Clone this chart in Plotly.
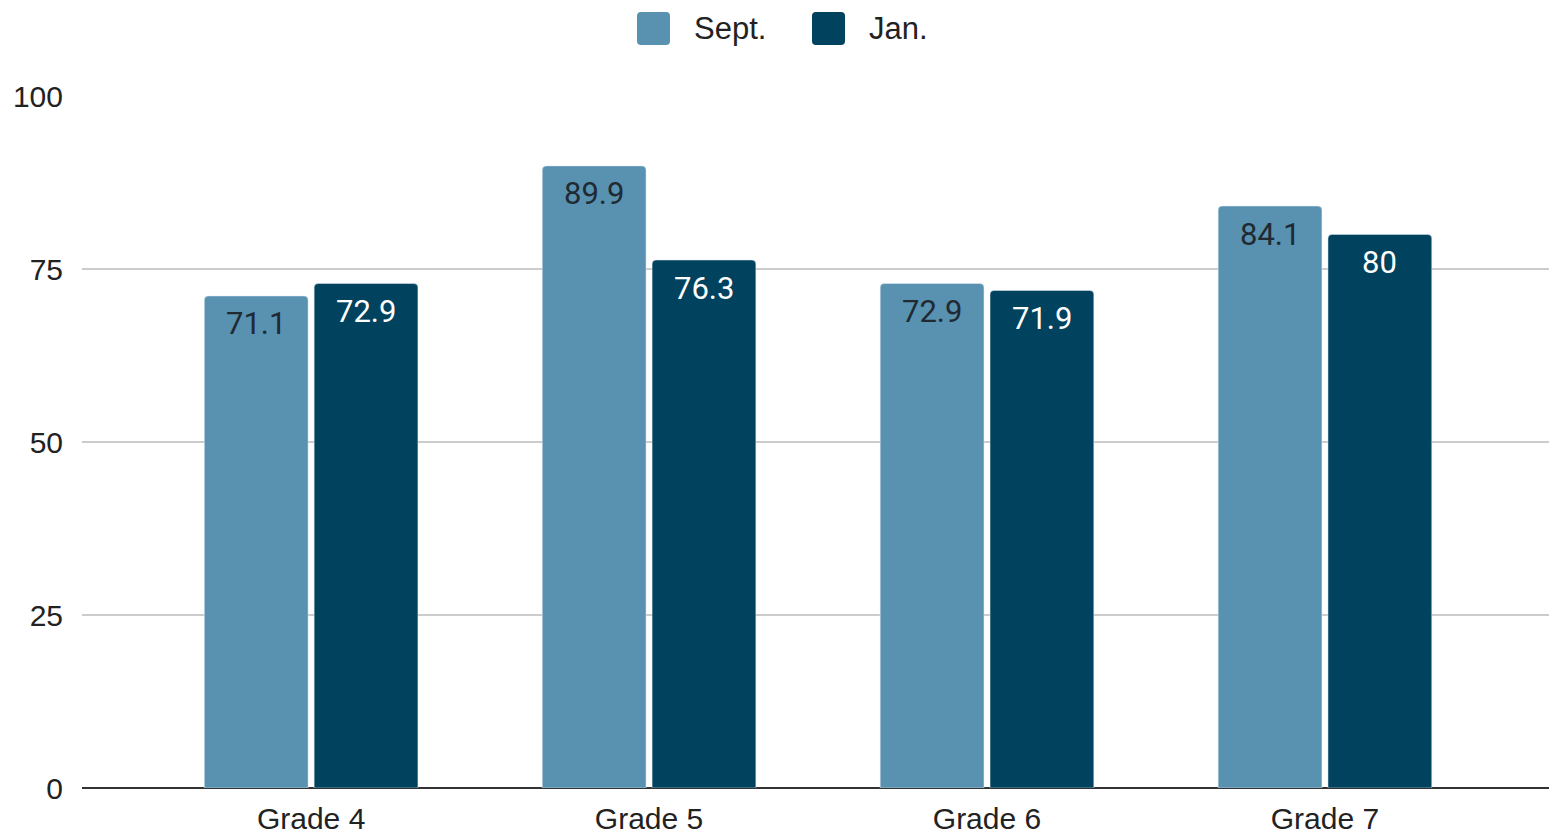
import plotly.graph_objects as go

grades = ["Grade 4", "Grade 5", "Grade 6", "Grade 7"]
sept = [71.1, 89.9, 72.9, 84.1]
jan = [72.9, 76.3, 71.9, 80]
series_names = ["Sept.", "Jan."]
y_ticks = [0, 25, 50, 75, 100]

SEPT_COLOR = "#5991b0"
JAN_COLOR = "#01425e"

W, H = 1549, 835
M_L, M_R, M_T, M_B = 82, 0, 96, 47
PLOT_W = W - M_L - M_R
PLOT_H = H - M_T - M_B

BARGAP = 0.35
BARGROUPGAP = 0.055
X_RANGE = [-0.678, 3.663]

fig = go.Figure()
for vals, name, color in [(sept, series_names[0], SEPT_COLOR), (jan, series_names[1], JAN_COLOR)]:
    fig.add_trace(go.Bar(
        x=list(range(len(grades))), y=vals, name=name,
        marker=dict(color=color, cornerradius=4),
        showlegend=False,
    ))

# Value labels near the top of each bar, centred on the bar within its group
slot = (1 - BARGAP) / 2
for k, (vals, txt_color) in enumerate([(sept, "#1f2a33"), (jan, "#ffffff")]):
    offset = (k - 0.5) * slot
    for i, v in enumerate(vals):
        fig.add_annotation(
            x=i + offset, y=v, xref="x", yref="y",
            text=f"{v:g}", showarrow=False, yanchor="middle", xanchor="center",
            yshift=-28, font=dict(family="Roboto", size=31, color=txt_color),
        )


def rounded_rect_path(px0, py0, px1, py1, r):
    """Rounded rectangle in paper coordinates, given pixel corners (top-left origin)."""
    def fx(px):
        return (px - M_L) / PLOT_W

    def fy(py):
        return (H - M_B - py) / PLOT_H

    return (
        f"M {fx(px0 + r)} {fy(py0)} L {fx(px1 - r)} {fy(py0)} "
        f"Q {fx(px1)} {fy(py0)} {fx(px1)} {fy(py0 + r)} "
        f"L {fx(px1)} {fy(py1 - r)} Q {fx(px1)} {fy(py1)} {fx(px1 - r)} {fy(py1)} "
        f"L {fx(px0 + r)} {fy(py1)} Q {fx(px0)} {fy(py1)} {fx(px0)} {fy(py1 - r)} "
        f"L {fx(px0)} {fy(py0 + r)} Q {fx(px0)} {fy(py0)} {fx(px0 + r)} {fy(py0)} Z"
    )


# Legend at top centre: rounded swatches + labels
legend_items = [(series_names[0], SEPT_COLOR, 637), (series_names[1], JAN_COLOR, 812)]
for label, color, px in legend_items:
    fig.add_shape(type="path", xref="paper", yref="paper",
                  path=rounded_rect_path(px, 12, px + 33, 45, 4),
                  fillcolor=color, line=dict(width=0), layer="above")
    fig.add_annotation(xref="paper", yref="paper",
                       x=(px + 55 - M_L) / PLOT_W, y=(H - M_B - 29) / PLOT_H,
                       text=label, showarrow=False, xanchor="left", yanchor="middle",
                       font=dict(family="Liberation Sans, Arial", size=31, color="#222222"))

fig.update_layout(
    width=W, height=H,
    margin=dict(l=M_L, r=M_R, t=M_T, b=M_B),
    paper_bgcolor="white", plot_bgcolor="white",
    barmode="group", bargap=BARGAP, bargroupgap=BARGROUPGAP,
    font=dict(family="Liberation Sans, Arial", size=30, color="#222222"),
    xaxis=dict(
        range=X_RANGE, showgrid=False, zeroline=False,
        tickmode="array", tickvals=list(range(len(grades))), ticktext=grades,
        showline=False, ticks="", ticklabelstandoff=10,
        tickfont=dict(size=30, color="#222222"),
    ),
    yaxis=dict(
        range=[0, 100], tickvals=y_ticks, showgrid=True, gridcolor="#cccccc",
        gridwidth=2, zeroline=True, zerolinecolor="#333333", zerolinewidth=2,
        ticks="", ticklabelstandoff=18, tickfont=dict(size=30, color="#222222"),
        showline=False,
    ),
)

fig.write_html("out.html")
